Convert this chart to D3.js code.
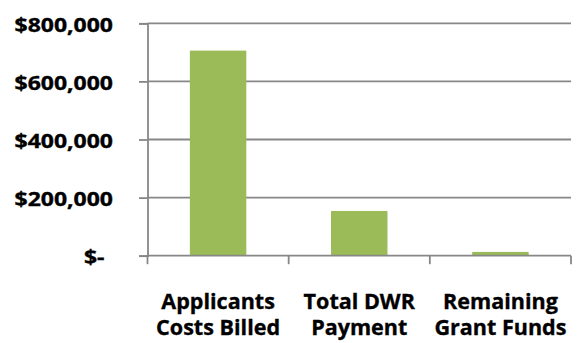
<!DOCTYPE html>
<html>
<head>
<meta charset="utf-8">
<script src="https://cdn.jsdelivr.net/npm/d3@7"></script>
<style>
  html, body { margin: 0; padding: 0; background: #fff; }
  svg { display: block; }
  text { font-family: "Open Sans", "DejaVu Sans", sans-serif; font-weight: 700; fill: #000; stroke: #000; stroke-width: 0.35px; }
</style>
</head>
<body>
<svg id="chart" width="580" height="343"></svg>
<script>
// Grant funding summary
const categories = ["Applicants Costs Billed", "Total DWR Payment", "Remaining Grant Funds"];
const categoryLines = [["Applicants", "Costs Billed"], ["Total DWR", "Payment"], ["Remaining", "Grant Funds"]];
const amounts = [706000, 154000, 13000];
const yTickValues = [0, 200000, 400000, 600000, 800000];
const yTickLabels = ["$-", "$200,000", "$400,000", "$600,000", "$800,000"];

const W = 580, H = 343;
const margin = { top: 23.3, right: 9, bottom: 87.3, left: 147.5 };
const iw = W - margin.left - margin.right;
const ih = H - margin.top - margin.bottom;

const gridColor = "#878787";
const barColor = "#9BBB59";

const svg = d3.select("#chart");
const g = svg.append("g").attr("transform", `translate(${margin.left},${margin.top})`);

const y = d3.scaleLinear().domain([0, 800000]).range([ih, 0]);

// category slots (tick marks sit on the slot boundaries)
const slot = d3.scaleBand().domain(categories).range([0, iw]).padding(0);
// bars: gap width 150% of the bar
const x = d3.scaleBand().domain(categories).range([0, iw]).paddingInner(0.6).paddingOuter(0.3);

// horizontal gridlines
g.append("g")
  .selectAll("line")
  .data(yTickValues.filter(v => v > 0))
  .join("line")
  .attr("x1", 0).attr("x2", iw)
  .attr("y1", d => y(d)).attr("y2", d => y(d))
  .attr("stroke", gridColor).attr("stroke-width", 1.8);

// bars
g.append("g")
  .selectAll("rect")
  .data(amounts)
  .join("rect")
  .attr("x", (d, i) => x(categories[i]))
  .attr("width", x.bandwidth())
  .attr("y", d => y(d))
  .attr("height", d => y(0) - y(d))
  .attr("fill", barColor);

// y axis
const yAxis = g.append("g")
  .call(d3.axisLeft(y)
    .tickValues(yTickValues)
    .tickSize(8.5)
    .tickPadding(0)
    .tickFormat((d, i) => yTickLabels[i]));
yAxis.select(".domain").attr("stroke", gridColor).attr("stroke-width", 1.8);
yAxis.selectAll(".tick line").attr("stroke", gridColor).attr("stroke-width", 1.8);
const ySx = 1.21;
yAxis.selectAll(".tick text")
  .attr("fill", "#000")
  .style("font-size", "19px")
  .attr("x", d => (d === 0 ? -43 : -34.5) / ySx)
  .attr("dy", "0.43em")
  .attr("transform", `scale(${ySx},1)`);

// x axis baseline with boundary ticks
const xg = g.append("g").attr("transform", `translate(0,${ih})`);
xg.append("line")
  .attr("x1", 0).attr("x2", iw)
  .attr("stroke", gridColor).attr("stroke-width", 1.8);
const bounds = categories.map(c => slot(c)).concat([slot(categories[categories.length - 1]) + slot.bandwidth()]);
xg.selectAll("line.tick")
  .data(bounds)
  .join("line")
  .attr("class", "tick")
  .attr("x1", d => d).attr("x2", d => d)
  .attr("y1", 0).attr("y2", 8.5)
  .attr("stroke", gridColor).attr("stroke-width", 1.8);

// category labels, two lines each
const xSx = 0.98;
const labels = xg.selectAll("g.cat")
  .data(categories)
  .join("g")
  .attr("class", "cat")
  .attr("transform", d => `translate(${slot(d) + slot.bandwidth() / 2},0) scale(${xSx},1)`);
labels.selectAll("text")
  .data((d, i) => categoryLines[i])
  .join("text")
  .attr("text-anchor", "middle")
  .attr("y", (d, j) => 53.3 + j * 26.5)
  .style("font-size", "22px")
  .text(d => d);
</script>
</body>
</html>
